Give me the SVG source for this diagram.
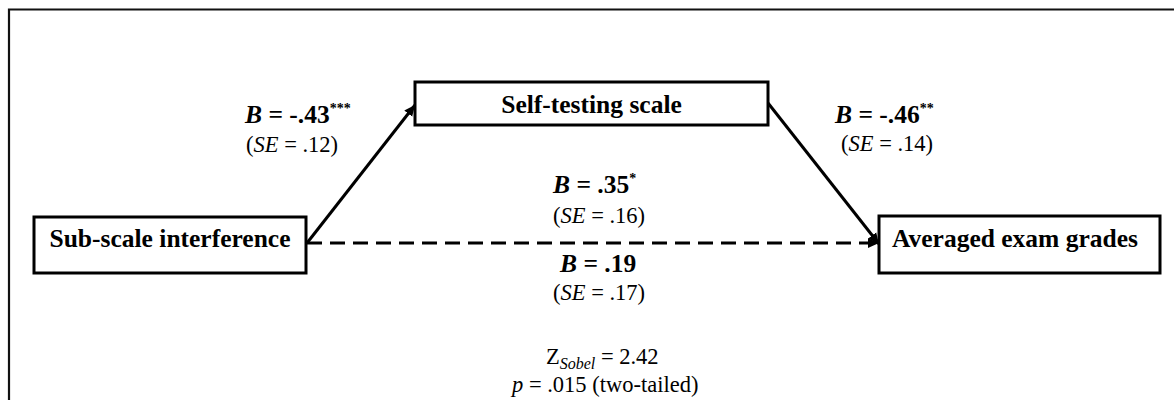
<svg xmlns="http://www.w3.org/2000/svg" width="1174" height="400" viewBox="0 0 1174 400">
<style>
.box{fill:#fff;stroke:#000;stroke-width:3}
.nt{font-family:"Liberation Serif",serif;font-weight:bold;font-size:25.5px;fill:#000}
.b{font-family:"Liberation Serif",serif;font-weight:bold;font-size:25.5px;fill:#000}
.se{font-family:"Liberation Serif",serif;font-size:22.5px;fill:#000}
.sup{font-family:"Liberation Serif",serif;font-size:14px;fill:#000}
.edge{stroke:#000;stroke-width:3;fill:none}
</style>
<defs>
<marker id="ah" markerUnits="userSpaceOnUse" markerWidth="12" markerHeight="12" viewBox="0 0 12 12" refX="11" refY="6" orient="auto">
<path d="M0,1 L11,6 L0,11 Z" fill="#000"/>
</marker>
</defs>
<rect x="0" y="0" width="1174" height="400" fill="#fff"/>
<path d="M9,400 V9.5 H1174" fill="none" stroke="#111" stroke-width="2.2"/>
<g id="connectors">
<line class="edge" x1="307" y1="243" x2="415" y2="105" marker-end="url(#ah)"/>
<line class="edge" x1="768" y1="103" x2="879" y2="244" marker-end="url(#ah)"/>
<line class="edge" x1="307" y1="243" x2="879" y2="243" stroke-dasharray="15 8" marker-end="url(#ah)"/>
</g>
<g id="node-sub">
<rect class="box" x="34" y="217" width="272" height="56"/>
<text class="nt" x="170" y="247" text-anchor="middle">Sub-scale interference</text>
</g>
<g id="node-self">
<rect class="box" x="415" y="82" width="353" height="43"/>
<text class="nt" x="591.5" y="113" text-anchor="middle">Self-testing scale</text>
</g>
<g id="node-exam">
<rect class="box" x="879" y="216" width="281" height="57"/>
<text class="nt" x="1015" y="247" text-anchor="middle">Averaged exam grades</text>
</g>
<g id="labels">
<text class="b" x="245" y="123"><tspan font-style="italic">B</tspan> = -.43<tspan class="sup" dy="-10">***</tspan></text>
<text class="se" x="246" y="152">(<tspan font-style="italic">SE</tspan> = .12)</text>
<text class="b" x="835" y="123"><tspan font-style="italic">B</tspan> = -.46<tspan class="sup" dy="-10">**</tspan></text>
<text class="se" x="841" y="151">(<tspan font-style="italic">SE</tspan> = .14)</text>
<text class="b" x="553" y="193"><tspan font-style="italic">B</tspan> = .35<tspan class="sup" dy="-10">*</tspan></text>
<text class="se" x="553" y="223">(<tspan font-style="italic">SE</tspan> = .16)</text>
<text class="b" x="560" y="272"><tspan font-style="italic">B</tspan> = .19</text>
<text class="se" x="553" y="300">(<tspan font-style="italic">SE</tspan> = .17)</text>
<text class="se" x="546" y="364">Z<tspan font-style="italic" font-size="16" dy="5">Sobel</tspan><tspan dy="-5"> = 2.42</tspan></text>
<text class="se" x="512" y="392"><tspan font-style="italic">p</tspan> = .015 (two-tailed)</text>
</g>
</svg>
